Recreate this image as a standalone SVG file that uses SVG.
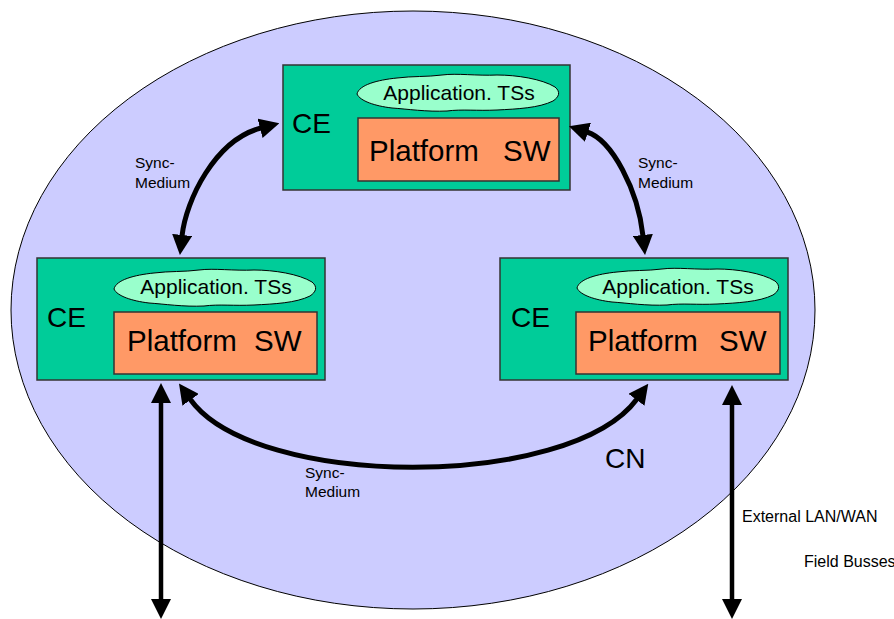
<svg xmlns="http://www.w3.org/2000/svg" xmlns:xlink="http://www.w3.org/1999/xlink" width="894" height="619" viewBox="0 0 894 619">
  <style>
    text { font-family: "Liberation Sans", Arial, sans-serif; fill: #000; }
    .ce { fill: #00CC99; stroke: #333; stroke-width: 1.5; }
    .plat { fill: #FF9966; stroke: #333; stroke-width: 1.5; }
    .cloud { fill: #99FFCC; stroke: #000; stroke-width: 1; }
    .app { font-size: 21px; text-anchor: middle; }
    .celbl { font-size: 28px; }
    .pl { font-size: 29.5px; }
    .small { font-size: 15.5px; }
    .ext { font-size: 16px; }
    .conn { fill: none; stroke: #000; stroke-width: 5; marker-start: url(#ah); marker-end: url(#ah); }
    .vert { stroke-width: 4.5; }
  </style>
  <defs>
    <marker id="ah" viewBox="0 0 20 20" refX="1" refY="10" markerWidth="20" markerHeight="20" markerUnits="userSpaceOnUse" orient="auto-start-reverse">
      <path d="M0,0 L20,10 L0,20 z" fill="#000"/>
    </marker>
    <path id="cloudShape" d="M0,21 C2,12 20,7 40,5 C55,3 70,4 85,2 C100,0 120,3 140,2 C160,2 185,6 198,14 C204,19 202,24 196,28 C182,35 160,36 140,37 C120,38 105,36 90,38 C70,39 50,36 35,35 C18,33 3,28 0,21 Z"/>
  </defs>

  <g id="cn">
    <ellipse cx="413" cy="310" rx="402" ry="299" fill="#CCCCFF" stroke="#000" stroke-width="1"/>
    <text x="605" y="468" class="celbl">CN</text>
  </g>

  <g id="ce-top">
    <rect class="ce" x="283" y="65" width="287" height="125"/>
    <use href="#cloudShape" xlink:href="#cloudShape" class="cloud" x="357" y="73"/>
    <text class="app" x="459" y="100">Application. TSs</text>
    <rect class="plat" x="358" y="118" width="201" height="63"/>
    <text class="celbl" x="292" y="133">CE</text>
    <text class="pl" y="161"><tspan x="369">Platform</tspan><tspan x="503">SW</tspan></text>
  </g>

  <g id="ce-left">
    <rect class="ce" x="37" y="258" width="288" height="122"/>
    <use href="#cloudShape" xlink:href="#cloudShape" class="cloud" x="114" y="268"/>
    <text class="app" x="216" y="294">Application. TSs</text>
    <rect class="plat" x="114" y="312" width="203" height="62"/>
    <text class="celbl" x="47" y="327">CE</text>
    <text class="pl" y="351"><tspan x="127">Platform</tspan><tspan x="254">SW</tspan></text>
  </g>

  <g id="ce-right">
    <rect class="ce" x="500" y="258" width="288" height="122"/>
    <use href="#cloudShape" xlink:href="#cloudShape" class="cloud" x="577" y="267"/>
    <text class="app" x="678" y="294">Application. TSs</text>
    <rect class="plat" x="576" y="312" width="204" height="62"/>
    <text class="celbl" x="511" y="327">CE</text>
    <text class="pl" y="351"><tspan x="588">Platform</tspan><tspan x="719">SW</tspan></text>
  </g>

  <g id="connectors">
    <path class="conn" d="M182,236 C186,200 215,140 261,128"/>
    <path class="conn" d="M587,132 C612,140 638,190 643,236"/>
    <path class="conn" d="M190,399 C255,490 570,490 637,399"/>
    <path class="conn vert" d="M161,402 L161,600"/>
    <path class="conn vert" d="M732,404 L732,600"/>
  </g>

  <g id="labels">
    <text class="small" x="135" y="168">Sync-</text>
    <text class="small" x="135" y="188">Medium</text>
    <text class="small" x="638" y="168">Sync-</text>
    <text class="small" x="638" y="188">Medium</text>
    <text class="small" x="305" y="478">Sync-</text>
    <text class="small" x="305" y="497">Medium</text>
    <text class="ext" x="742" y="522">External LAN/WAN</text>
    <text class="ext" x="804" y="567">Field Busses</text>
  </g>
</svg>
